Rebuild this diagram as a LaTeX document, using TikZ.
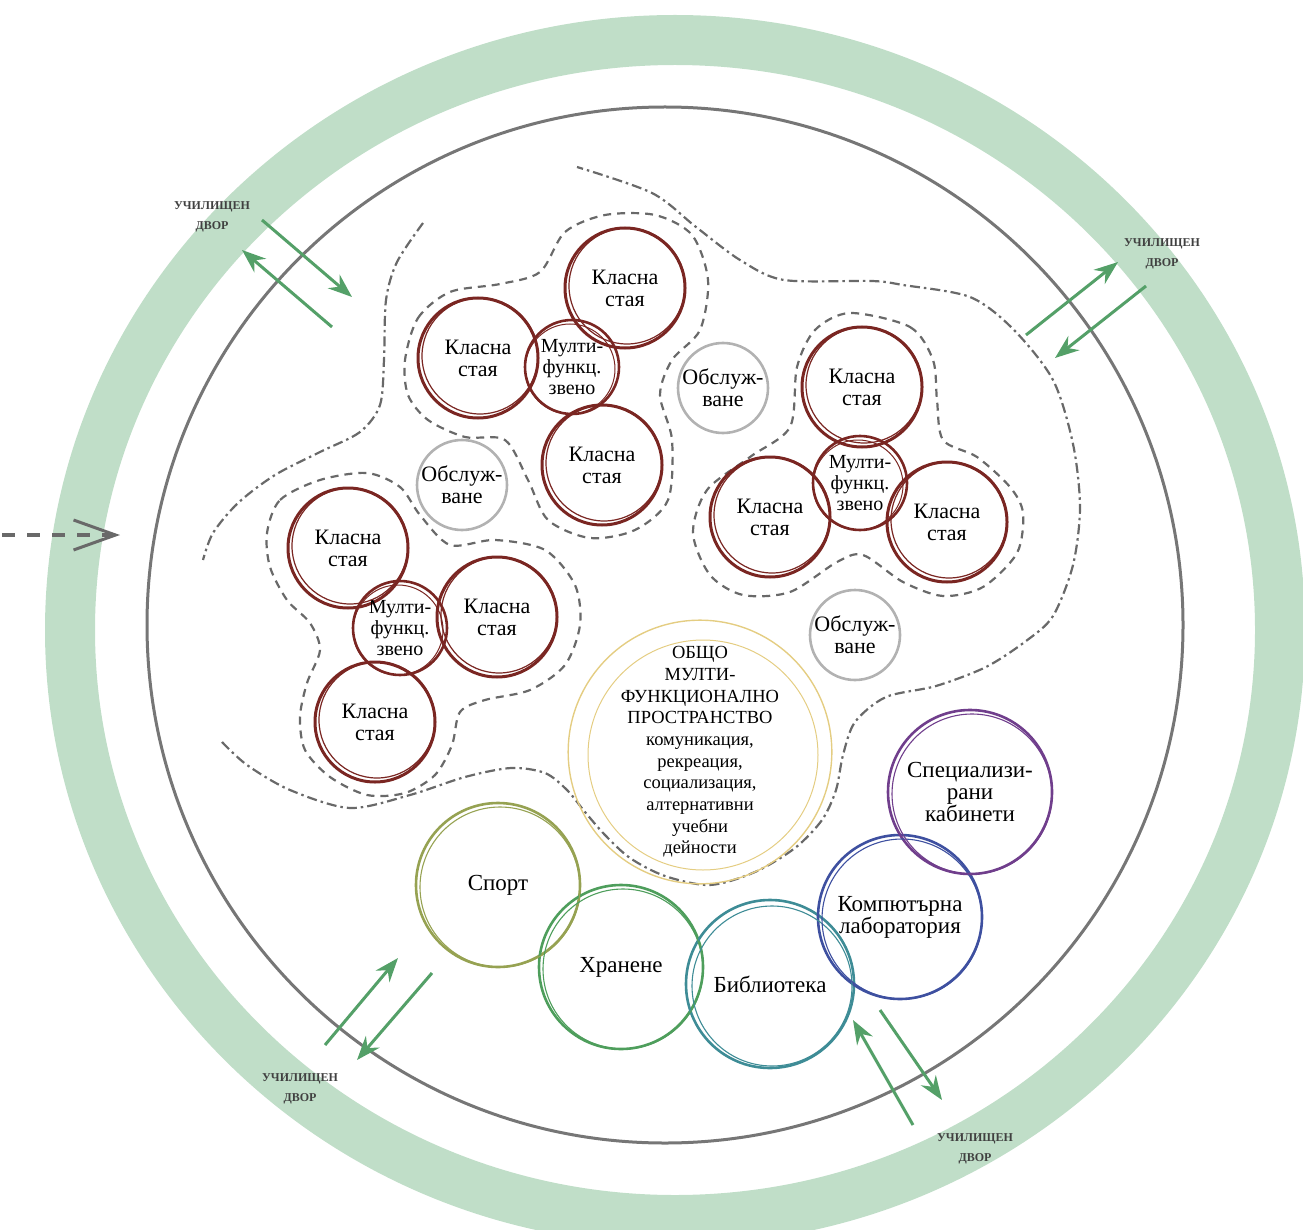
\documentclass[tikz,border=0pt]{standalone}
\usepackage{fontspec}
\setmainfont{Liberation Serif}
\usetikzlibrary{arrows.meta}

\definecolor{ringgreen}{RGB}{192,222,200}
\definecolor{wallgray}{RGB}{118,118,118}
\definecolor{linegray}{RGB}{105,105,105}
\definecolor{classred}{RGB}{122,38,34}
\definecolor{servgray}{RGB}{178,178,178}
\definecolor{hallgold}{RGB}{228,205,130}
\definecolor{sportolive}{RGB}{150,162,82}
\definecolor{foodgreen}{RGB}{78,158,92}
\definecolor{libteal}{RGB}{62,140,150}
\definecolor{labblue}{RGB}{62,80,160}
\definecolor{cabpurple}{RGB}{112,62,140}
\definecolor{arrowgreen}{RGB}{84,160,104}

\tikzset{
    % rooms - circles with text
    room/.style={circle, draw, inner sep=0pt, align=center, text=black,
        font=\fontsize{22}{22}\selectfont},
    class room/.style={room, draw=classred, line width=3pt, minimum size=120pt},
    multi room/.style={room, draw=classred, line width=2.6pt, minimum size=94pt,
        font=\fontsize{20}{21}\selectfont},
    service room/.style={room, draw=servgray, line width=2.6pt, minimum size=90pt},
    hall/.style={room, draw=hallgold, line width=1.4pt, minimum size=236pt,
        font=\fontsize{18.5}{21.7}\selectfont},
    big room/.style={room, line width=2.6pt, minimum size=164pt,
        font=\fontsize{23}{22}\selectfont},
    % outlines
    zone/.style={linegray, line width=2.2pt,
        dash pattern=on 10pt off 4pt on 2.5pt off 4pt},
    cluster/.style={linegray, line width=2.2pt, dash pattern=on 8pt off 6pt},
    % yard arrows and labels
    yard arrow/.style={arrowgreen, line width=3pt,
        -{Stealth[length=24pt, width=18pt, inset=8pt]}},
    yard label/.style={font=\bfseries\fontsize{12}{20}\selectfont,
        text=black!75, align=center, inner sep=0pt},
}

\begin{document}
\begin{tikzpicture}[x=1pt, y=-1pt]
    \useasboundingbox (0,0) rectangle (1303,1230);

    % school yard ring and building wall
    \draw[ringgreen, line width=50pt] (675,630) ellipse[x radius=605, y radius=590];
    \draw[wallgray, line width=3pt] (665,625) circle[radius=518];

    % entrance
    \coordinate (in0) at (2,535);
    \coordinate (in1) at (120,535);
    \draw[linegray, line width=4pt, dash pattern=on 13pt off 12pt,
        -{Straight Barb[length=42pt, width=30pt, line width=3pt]}] (in0) -- (in1);

    % yard exits
    \node[yard label] (yard1) at (212,217) {УЧИЛИЩЕН\\ДВОР};
    \coordinate (a1) at (262,220);  \coordinate (b1) at (352,297);
    \coordinate (a2) at (332,327);  \coordinate (b2) at (242,250);
    \draw[yard arrow] (a1) -- (b1);
    \draw[yard arrow] (a2) -- (b2);

    \node[yard label] (yard2) at (1162,254) {УЧИЛИЩЕН\\ДВОР};
    \coordinate (a3) at (1026,335); \coordinate (b3) at (1118,262);
    \coordinate (a4) at (1146,286); \coordinate (b4) at (1055,358);
    \draw[yard arrow] (a3) -- (b3);
    \draw[yard arrow] (a4) -- (b4);

    \node[yard label] (yard3) at (300,1089) {УЧИЛИЩЕН\\ДВОР};
    \coordinate (a5) at (325,1045); \coordinate (b5) at (398,958);
    \coordinate (a6) at (432,973);  \coordinate (b6) at (357,1060);
    \draw[yard arrow] (a5) -- (b5);
    \draw[yard arrow] (a6) -- (b6);

    \node[yard label] (yard4) at (975,1149) {УЧИЛИЩЕН\\ДВОР};
    \coordinate (a7) at (880,1010); \coordinate (b7) at (942,1100);
    \coordinate (a8) at (913,1125); \coordinate (b8) at (853,1020);
    \draw[yard arrow] (a7) -- (b7);
    \draw[yard arrow] (a8) -- (b8);

    % classroom zone
    \draw[zone] plot[smooth] coordinates {(423,223) (397,262) (386,300)
        (384,360) (380,405) (360,432) (320,452) (275,475) (238,503)
        (213,533) (203,560)};
    \draw[zone] plot[smooth] coordinates {(222,742) (247,765) (290,790)
        (350,808) (410,795) (465,777) (511,768) (545,773) (567,790)
        (585,812) (605,835) (630,858) (665,876) (710,885) (755,872)
        (795,848) (822,820) (836,790) (843,755) (855,722) (886,697)
        (936,686) (986,667) (1026,641) (1053,616) (1073,565) (1080,507)
        (1073,444) (1053,380) (1013,329) (970,297) (903,285) (872,281)
        (784,280) (740,260) (696,227) (652,193) (577,167)};

    % classroom clusters
    \draw[cluster] plot[smooth cycle] coordinates {(405,360) (418,318)
        (450,292) (500,284) (540,272) (565,232) (605,215) (655,215)
        (692,235) (708,280) (700,330) (672,360) (660,395) (672,440)
        (668,500) (635,530) (590,538) (548,520) (528,480) (505,440)
        (465,437) (428,420) (408,395)};
    \draw[cluster] plot[smooth cycle] coordinates {(850,313) (910,327)
        (933,360) (937,400) (943,440) (977,457) (1010,487) (1023,513)
        (1017,553) (983,587) (943,596) (903,582) (863,555) (837,562)
        (790,592) (743,595) (710,575) (693,533) (707,490) (750,457)
        (790,427) (797,367) (815,330)};
    \draw[cluster] plot[smooth cycle] coordinates {(267,533) (280,500)
        (320,480) (367,473) (400,487) (420,515) (450,545) (495,540)
        (545,550) (575,585) (580,625) (565,665) (530,690) (485,700)
        (460,712) (452,745) (435,775) (405,793) (367,795) (330,777)
        (305,750) (300,717) (307,683) (320,650) (310,623) (287,600)
        (270,567)};

    % rooms
    \foreach \n/\x/\y in {K1/625/288, K2/478/358, K3/602/465, K4/862/387,
        K5/770/517, K6/947/522, K7/348/548, K8/497/617, K9/375/722}
        \node[class room] (\n) at (\x,\y) {Класна\\стая};
    \foreach \n/\x/\y in {M1/572/367, M2/860/483, M3/400/628}
        \node[multi room] (\n) at (\x,\y) {Мулти-\\функц.\\звено};
    \foreach \n/\x/\y in {S1/723/388, S2/462/485, S3/855/635}
        \node[service room] (\n) at (\x,\y) {Обслуж-\\ване};
    % sketchy second stroke
    \foreach \n in {K1,K2,K3,K4,K5,K6,K7,K8,K9}
        \draw[classred, line width=1.2pt] ([shift={(2,-2)}]\n.center) circle[radius=58];
    \foreach \n in {M1,M2,M3}
        \draw[classred, line width=1pt] ([shift={(-2,2)}]\n.center) circle[radius=45];

    \node[hall] (hall) at (700,752) {ОБЩО\\МУЛТИ-\\ФУНКЦИОНАЛНО\\ПРОСТРАНСТВО\\
        комуникация,\\рекреация,\\социализация,\\алтернативни\\учебни\\дейности};
    \draw[hallgold, line width=1pt] ([shift={(3,3)}]hall.center) circle[radius=115];

    \node[big room, draw=sportolive] (sport) at (498,885) {Спорт};
    \node[big room, draw=foodgreen] (food) at (621,967) {Хранене};
    \node[big room, draw=libteal, minimum size=168pt] (lib) at (770,984) {Библиотека};
    \node[big room, draw=labblue] (lab) at (900,917) {Компютърна\\лаборатория};
    \node[big room, draw=cabpurple] (cab) at (970,792) {Специализи-\\рани\\кабинети};
    \foreach \n/\c in {sport/sportolive, food/foodgreen, lib/libteal,
        lab/labblue, cab/cabpurple}
        \draw[\c, line width=1.1pt] ([shift={(2,2)}]\n.center) circle[radius=80];
\end{tikzpicture}
\end{document}
